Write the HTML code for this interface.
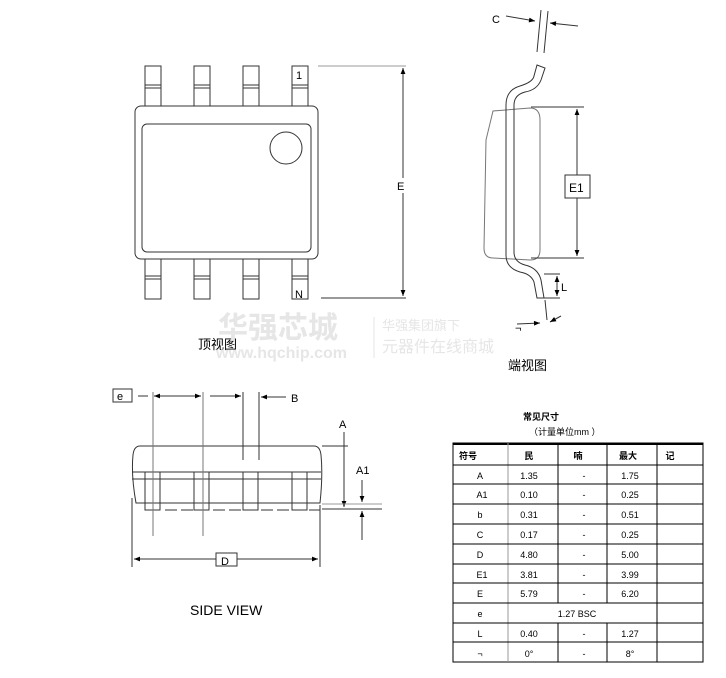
<!DOCTYPE html>
<html><head><meta charset="utf-8"><style>
body{margin:0;background:#fff;width:726px;height:673px;overflow:hidden;font-family:"Liberation Sans","Noto Sans CJK SC",sans-serif}
svg text{font-family:"Liberation Sans","Noto Sans CJK SC",sans-serif}
</style></head><body>
<svg width="726" height="673" viewBox="0 0 726 673" xmlns="http://www.w3.org/2000/svg">
<defs><marker id="a" viewBox="0 0 10 10" refX="10" refY="5" markerWidth="7" markerHeight="6" orient="auto-start-reverse"><path d="M0,1 L10,5 L0,9z" fill="#000"/></marker></defs>
<g fill="none" stroke="#333" stroke-width="1">
<!-- top view pins -->
<g id="tp">
<rect x="145" y="66" width="16" height="40"/><line x1="145" y1="85" x2="161" y2="85"/><line x1="145" y1="88" x2="161" y2="88"/>
<rect x="145" y="259" width="16" height="40"/><line x1="145" y1="276" x2="161" y2="276"/><line x1="145" y1="279" x2="161" y2="279"/>
</g>
<use href="#tp" x="49"/><use href="#tp" x="98"/><use href="#tp" x="147"/>
<rect x="135" y="106" width="183" height="153" rx="6" fill="#fff"/>
<rect x="142" y="124" width="169" height="128" rx="5"/>
<circle cx="286" cy="148" r="16"/>
<line x1="318" y1="66" x2="406" y2="66" stroke="#999"/>
<line x1="321" y1="298" x2="406" y2="298"/>
<line x1="403" y1="68" x2="403" y2="178" marker-start="url(#a)"/>
<line x1="403" y1="193" x2="403" y2="296" marker-end="url(#a)"/>
<!-- end view -->
<path d="M486,140 L493,111 L530,108 Q540,108 540,120 L540,250 Q540,260 530,260 L493,258 Q484,258 484,248 Z" stroke="#777"/>
<path d="M537,65 L545,68 L541,80 Q537,90 525,92 Q514,95 514,105 L514,252 Q514,262 525,265 Q538,268 541,280 L544,298 L537,298 L534,282 Q531,274 520,272 Q506,268 506,255 L506,105 Q506,90 520,86 Q533,82 534,76 Z"/>
<line x1="541" y1="10" x2="537" y2="52"/><line x1="548" y1="11" x2="544" y2="53"/>
<line x1="506" y1="16" x2="535" y2="21" marker-end="url(#a)"/>
<line x1="578" y1="26" x2="550" y2="23" marker-end="url(#a)"/>
<line x1="531" y1="107" x2="584" y2="107"/><line x1="531" y1="258" x2="584" y2="258"/>
<line x1="577" y1="109" x2="577" y2="175" marker-start="url(#a)"/>
<line x1="577" y1="198" x2="577" y2="256" marker-end="url(#a)"/>
<rect x="565" y="175" width="25" height="23" fill="#fff"/>
<line x1="544" y1="274" x2="560" y2="274"/><line x1="544" y1="298" x2="560" y2="298"/>
<line x1="557" y1="276" x2="557" y2="296" marker-start="url(#a)" marker-end="url(#a)"/>
<line x1="545" y1="300" x2="547" y2="320"/>
<line x1="517" y1="324" x2="540" y2="323" marker-end="url(#a)"/>
<line x1="561" y1="316" x2="550" y2="322" marker-end="url(#a)"/>
<!-- side view -->
<path d="M140,446 L314,446 Q320,446 321,455 Q323,475 320,503 L136,503 Q131,475 133,455 Q134,446 140,446Z"/>
<line x1="132" y1="472" x2="321" y2="472"/><line x1="132" y1="479" x2="321" y2="479"/>
<g id="sl"><rect x="145" y="472" width="15" height="31"/><rect x="145" y="503" width="15" height="7"/></g>
<use href="#sl" x="49"/><use href="#sl" x="98"/><use href="#sl" x="147"/>
<line x1="165" y1="510" x2="320" y2="510" stroke-dasharray="12 4"/>
<line x1="153" y1="392" x2="153" y2="536" stroke="#777"/>
<line x1="203" y1="392" x2="203" y2="536" stroke="#777"/>
<line x1="243" y1="392" x2="243" y2="460"/><line x1="259" y1="392" x2="259" y2="460"/>
<line x1="138" y1="396" x2="148" y2="396"/>
<line x1="154" y1="396" x2="201" y2="396" marker-start="url(#a)" marker-end="url(#a)"/>
<line x1="210" y1="396" x2="241" y2="396" marker-end="url(#a)"/>
<line x1="286" y1="397" x2="261" y2="397" marker-end="url(#a)"/>
<line x1="322" y1="446" x2="348" y2="446"/>
<line x1="344" y1="432" x2="344" y2="507" marker-end="url(#a)"/>
<line x1="322" y1="509" x2="382" y2="509"/>
<line x1="322" y1="504" x2="382" y2="504" stroke="#999"/>
<line x1="362" y1="480" x2="362" y2="502" marker-end="url(#a)"/>
<line x1="362" y1="540" x2="362" y2="511" marker-end="url(#a)"/>
<line x1="132" y1="498" x2="132" y2="567"/><line x1="320" y1="505" x2="320" y2="567"/>
<line x1="216" y1="559" x2="134" y2="559" marker-end="url(#a)"/>
<line x1="237" y1="559" x2="318" y2="559" marker-end="url(#a)"/>
<rect x="216" y="553" width="21" height="13" fill="#fff"/>
<rect x="113" y="389" width="19" height="13"/>
</g>
<g font-size="11" fill="#000">
<text x="296" y="79">1</text><text x="295" y="298">N</text>
<text x="397" y="190">E</text>
<text x="492" y="23">C</text>
<text x="569" y="192" font-size="12">E1</text>
<text x="561" y="291">L</text>
<text x="515" y="332">¬</text>
<text x="117" y="400">e</text>
<text x="291" y="402">B</text>
<text x="339" y="428">A</text>
<text x="356" y="474">A1</text>
<text x="221" y="565">D</text>
<text x="198" y="349" font-size="13">顶视图</text>
<text x="508" y="370" font-size="13">端视图</text>
<text x="190" y="615" font-size="14">SIDE VIEW</text>
</g>
<!-- watermark -->
<g fill="#e6e6e6"><text x="218" y="338" font-size="30" font-weight="bold">华强芯城</text>
<text x="216" y="358" font-size="16" font-weight="bold">www.hqchip.com</text>
<line x1="374" y1="317" x2="374" y2="358" stroke="#e6e6e6"/>
<text x="382" y="330" font-size="13">华强集团旗下</text>
<text x="382" y="352" font-size="16">元器件在线商城</text></g>
<!-- table -->
<g font-size="9" fill="#000">
<text x="523" y="420" font-weight="bold">常见尺寸</text>
<text x="529" y="435">（计量单位mm ）</text>
</g>
<g stroke="#000" fill="none">
<rect x="453" y="443" width="250" height="219"/>
<line x1="453" y1="444" x2="703" y2="444" stroke-width="2"/>
<line x1="508" y1="443" x2="508" y2="662" stroke="#999"/>
<line x1="558" y1="443" x2="558" y2="603"/><line x1="558" y1="623" x2="558" y2="662"/>
<line x1="607" y1="443" x2="607" y2="603"/><line x1="607" y1="623" x2="607" y2="662"/>
<line x1="657" y1="443" x2="657" y2="662"/>
<line x1="453" y1="465" x2="703" y2="465"/>
<line x1="453" y1="484" x2="703" y2="484"/><line x1="453" y1="504" x2="703" y2="504"/>
<line x1="453" y1="524" x2="703" y2="524"/><line x1="453" y1="544" x2="703" y2="544"/>
<line x1="453" y1="564" x2="703" y2="564"/><line x1="453" y1="583" x2="703" y2="583"/>
<line x1="453" y1="603" x2="703" y2="603"/><line x1="453" y1="623" x2="703" y2="623"/>
<line x1="453" y1="642" x2="703" y2="642"/>
</g>
<g font-size="9" fill="#000" text-anchor="middle">
<g font-weight="bold"><text x="468" y="459">符号</text><text x="529" y="459">民</text><text x="578" y="459">喃</text><text x="628" y="459">最大</text><text x="670" y="459">记</text></g>
<text x="480" y="479">A</text><text x="529" y="479">1.35</text><text x="584" y="479">-</text><text x="630" y="479">1.75</text>
<text x="482" y="498">A1</text><text x="529" y="498">0.10</text><text x="584" y="498">-</text><text x="630" y="498">0.25</text>
<text x="480" y="518">b</text><text x="529" y="518">0.31</text><text x="584" y="518">-</text><text x="630" y="518">0.51</text>
<text x="480" y="538">C</text><text x="529" y="538">0.17</text><text x="584" y="538">-</text><text x="630" y="538">0.25</text>
<text x="480" y="558">D</text><text x="529" y="558">4.80</text><text x="584" y="558">-</text><text x="630" y="558">5.00</text>
<text x="482" y="578">E1</text><text x="529" y="578">3.81</text><text x="584" y="578">-</text><text x="630" y="578">3.99</text>
<text x="480" y="597">E</text><text x="529" y="597">5.79</text><text x="584" y="597">-</text><text x="630" y="597">6.20</text>
<text x="480" y="617">e</text><text x="577" y="617">1.27 BSC</text>
<text x="480" y="637">L</text><text x="529" y="637">0.40</text><text x="584" y="637">-</text><text x="630" y="637">1.27</text>
<text x="480" y="657">¬</text><text x="529" y="657">0°</text><text x="584" y="657">-</text><text x="630" y="657">8°</text>
</g>
</svg>
</body></html>
